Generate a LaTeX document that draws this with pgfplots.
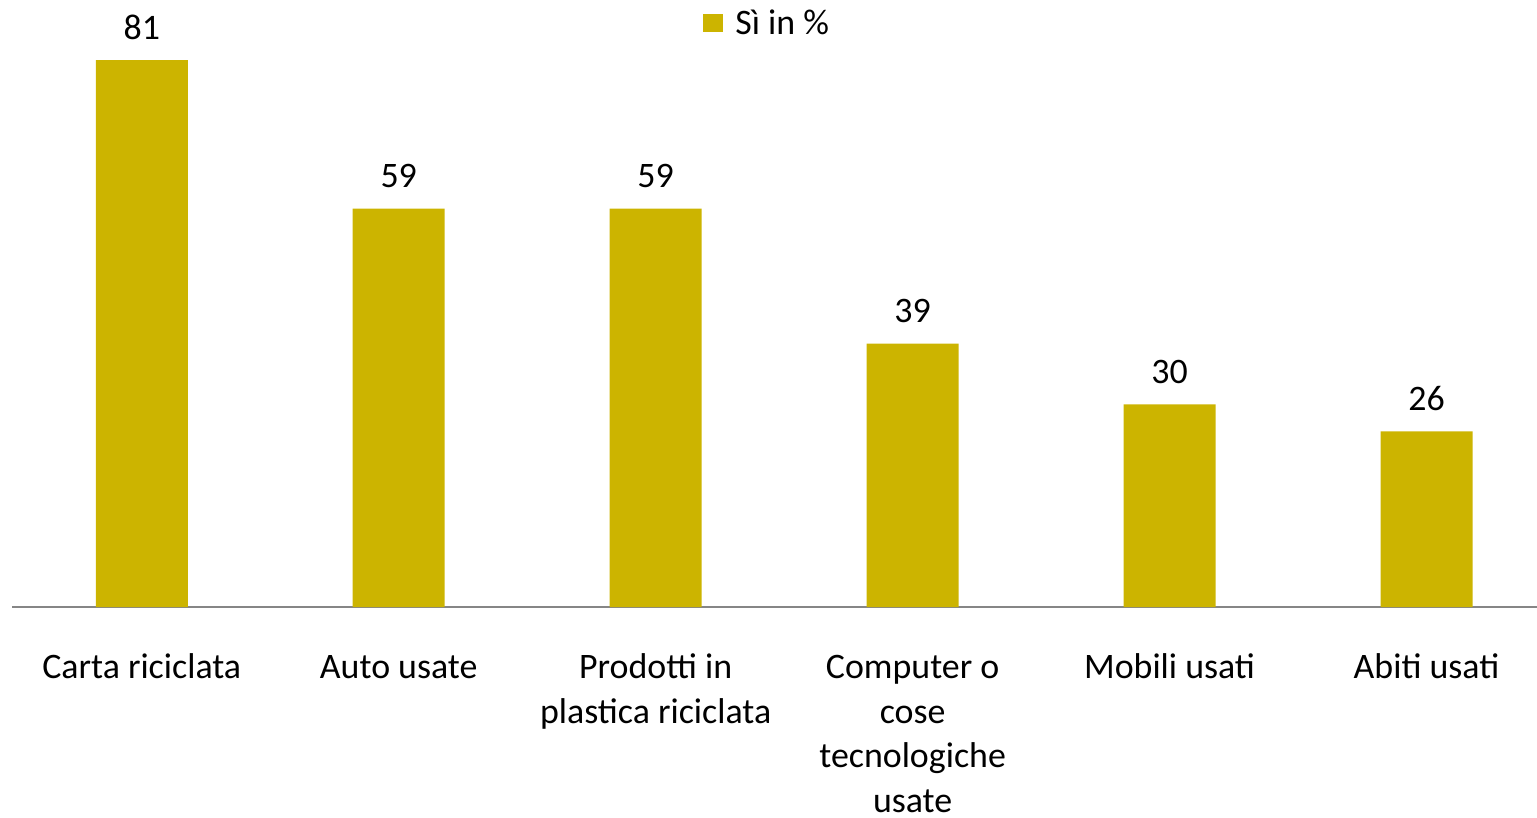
\documentclass[border=0pt]{standalone}
\usepackage{pgfplots}
\pgfplotsset{compat=1.18}
\usepackage{fontspec}
\setmainfont{Carlito}
\definecolor{barcol}{RGB}{204,180,0}
\definecolor{axgray}{RGB}{134,134,134}
\begin{document}
\begin{tikzpicture}[font=\fontsize{18}{22.5}\selectfont]
\useasboundingbox (-6bp,-105.5bp) rectangle (762.5bp,303.5bp);
\begin{axis}[
  at={(0,0)}, anchor=south west,
  width=762.5bp, height=303.5bp, scale only axis,
  xmin=-0.505, xmax=5.43, ymin=0, ymax=89.9,
  axis x line*=bottom, hide y axis,
  x axis line style={draw=axgray, line width=1bp, -},
  xtick={0,1,2,3,4,5},
  xticklabels={\strut Carta riciclata, \strut Auto usate, \strut Prodotti in\\plastica riciclata,
    \strut Computer o\\cose\\tecnologiche\\usate, \strut Mobili usati, \strut Abiti usati},
  major tick length=0pt,
  xticklabel style={align=center, anchor=north, yshift=-19.75bp, inner sep=0pt},
  ybar, bar width=46bp,
  /pgf/number format/assume math mode=true,
  nodes near coords,
  every node near coord/.append style={anchor=base, yshift=10.5bp, inner sep=0pt, text=black},
  clip=false,
  legend style={draw=none, fill=none, at={(0.4531,0.985)}, anchor=north west,
    inner sep=0pt, nodes={inner sep=0pt}, cells={anchor=west},
    /tikz/every odd column/.append style={column sep=6bp}},
  legend image code/.code={\fill[#1] (0bp,-4.5bp) rectangle (10bp,4.5bp);},
]
\addplot[fill=barcol, draw=none] coordinates {
  (0,81) (1,59) (2,59) (3,39) (4,30) (5,26)};
\addlegendentry{Sì in \%}
\end{axis}
\end{tikzpicture}
\end{document}
